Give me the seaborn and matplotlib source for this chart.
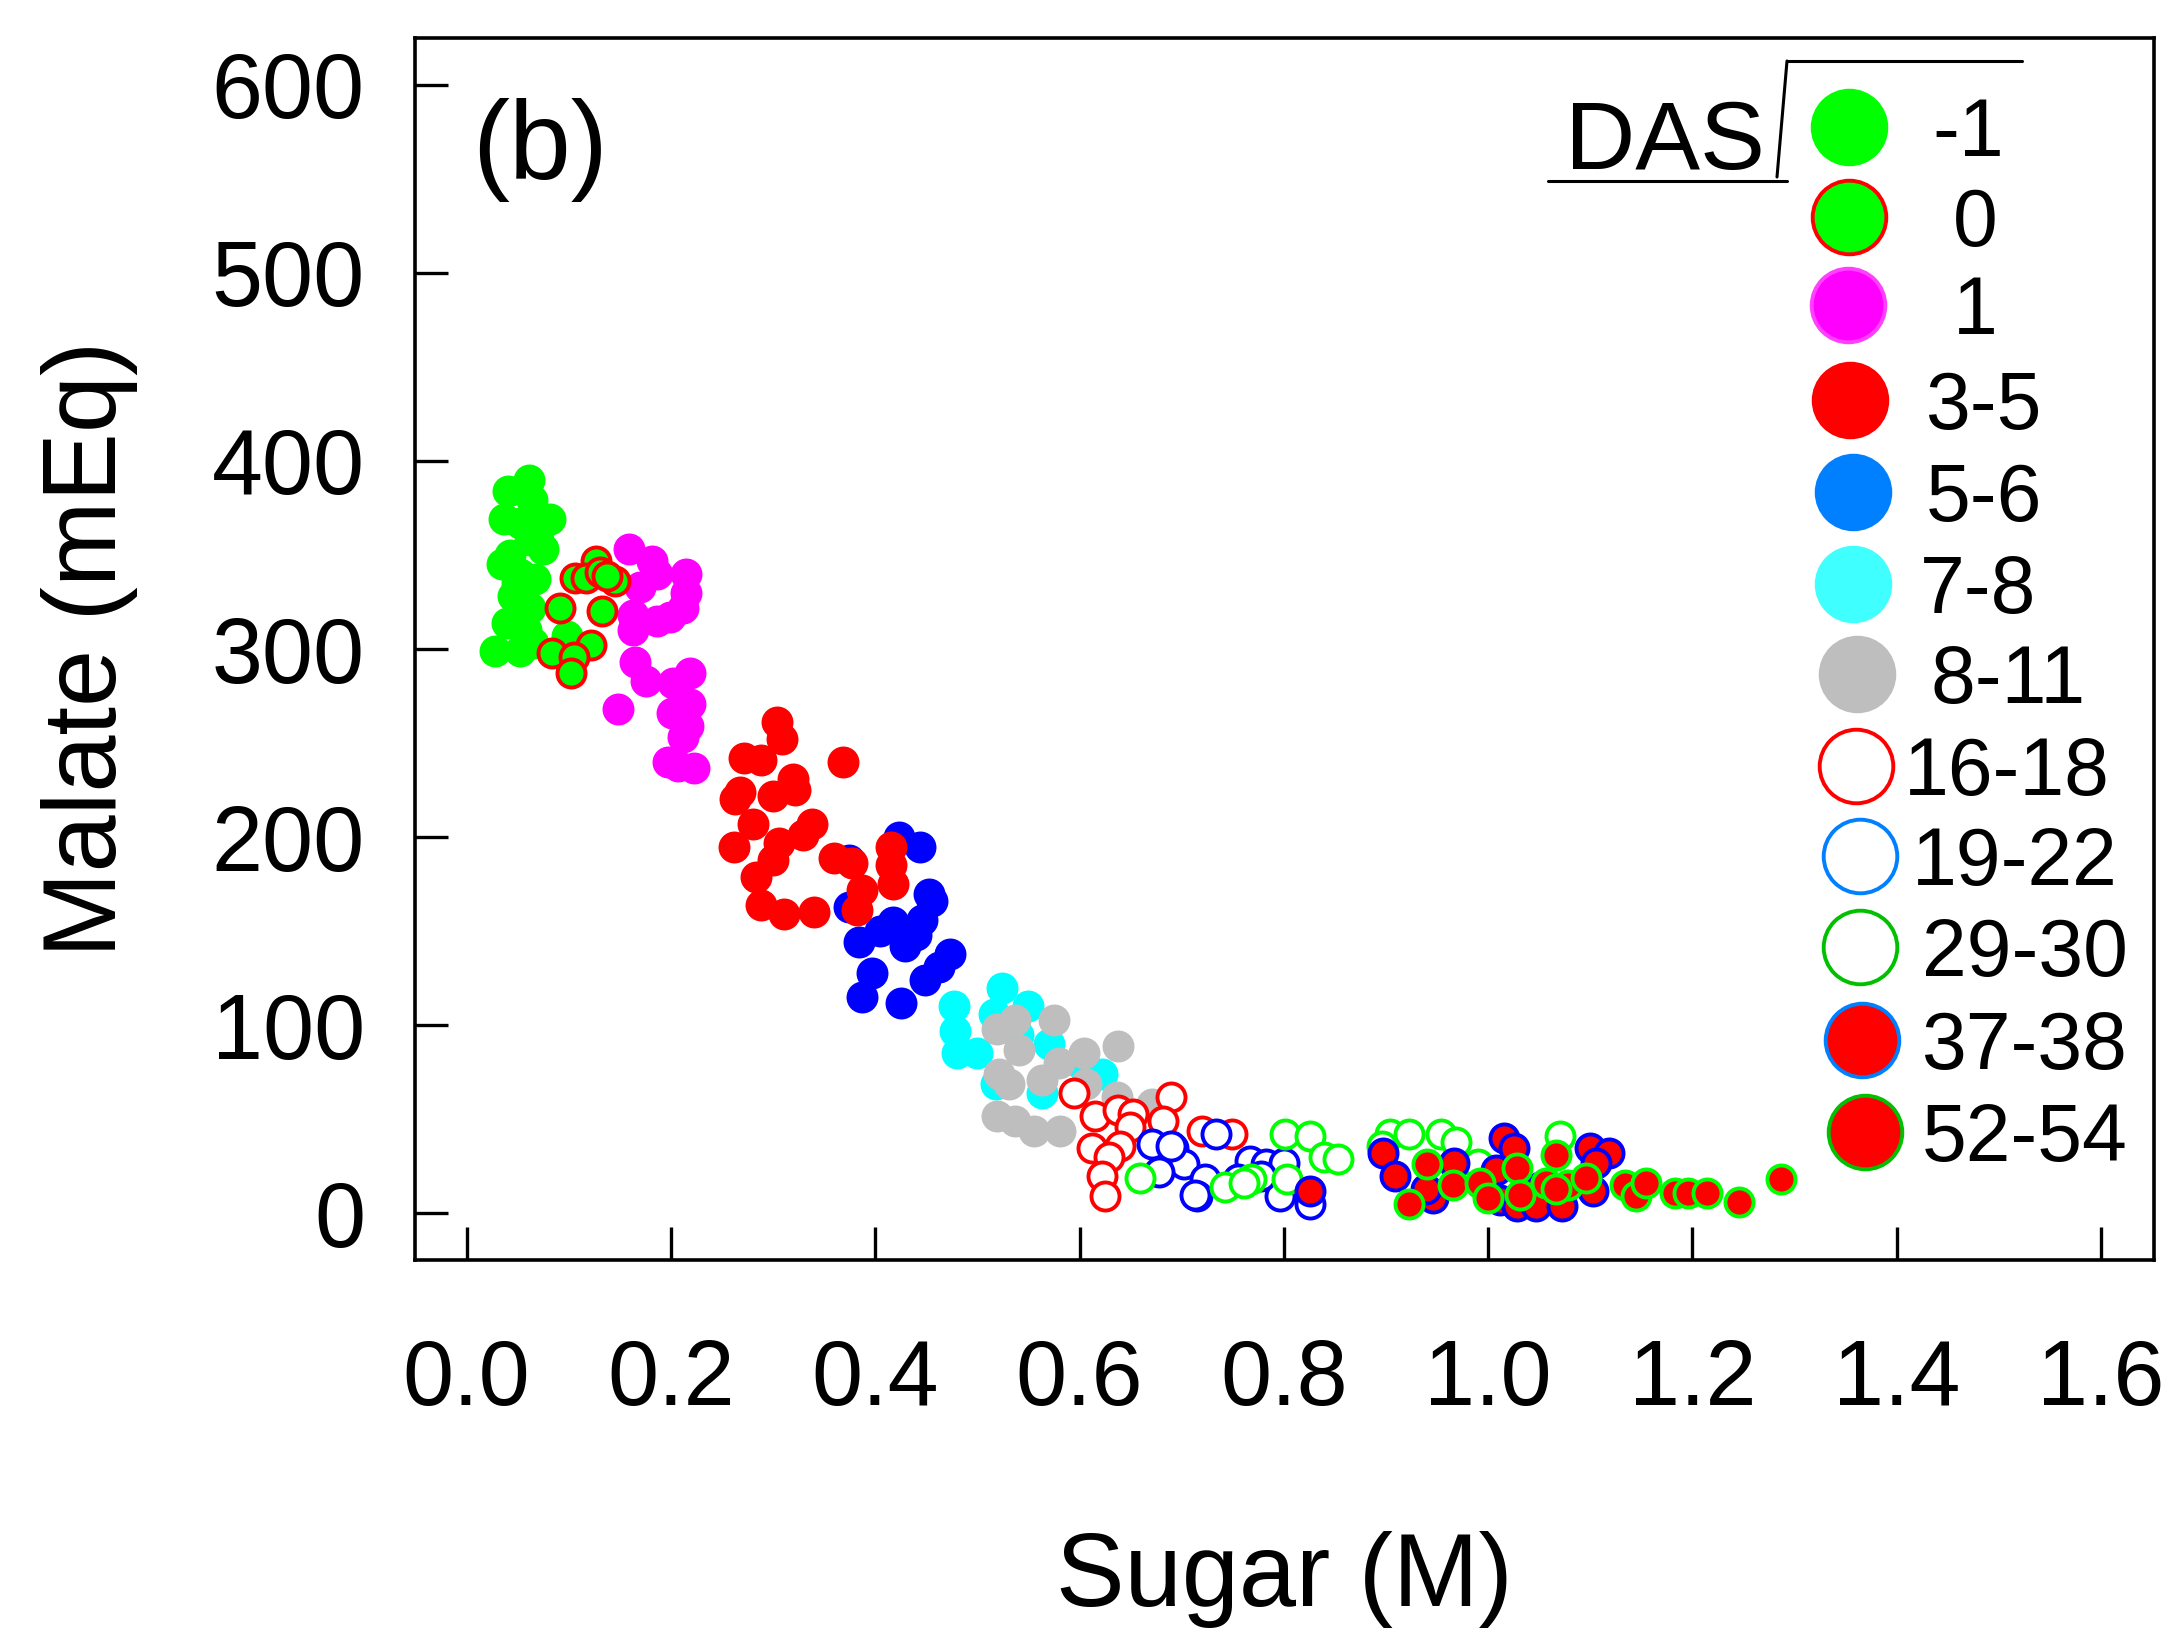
import matplotlib
matplotlib.use("Agg")
import matplotlib.pyplot as plt
import seaborn as sns
from matplotlib import font_manager as fm
from matplotlib.lines import Line2D

# ---------------- data ----------------
x_m1 = [0.061, 0.040, 0.064, 0.037, 0.082, 0.052, 0.042, 0.075, 0.062, 0.052, 0.049, 0.067,
        0.045, 0.062, 0.039, 0.052, 0.028, 0.052, 0.065, 0.098, 0.035, 0.070, 0.058]
y_m1 = [390, 384, 379, 369, 369, 367, 350, 353, 358, 340, 335, 337,
        328, 322, 314, 316, 299, 299, 303, 307, 345, 362, 310]

x_0 = [0.127, 0.106, 0.117, 0.131, 0.145, 0.137, 0.091, 0.132, 0.122, 0.084, 0.105, 0.102]
y_0 = [347, 338, 338, 341, 336, 339, 322, 320, 302, 298, 296, 287]

x_1 = [0.159, 0.181, 0.186, 0.215, 0.215, 0.212, 0.170, 0.163, 0.186, 0.199, 0.163, 0.165,
       0.176, 0.219, 0.202, 0.219, 0.201, 0.217, 0.148, 0.212, 0.197, 0.223, 0.207]
y_1 = [353, 347, 340, 340, 330, 322, 333, 318, 315, 317, 310, 293,
       283, 287, 282, 271, 266, 259, 268, 253, 240, 237, 238]

x_3_5 = [0.304, 0.309, 0.272, 0.288, 0.368, 0.319, 0.321, 0.300, 0.263, 0.268, 0.338, 0.329,
         0.280, 0.262, 0.300, 0.306, 0.360, 0.377, 0.283, 0.415, 0.415, 0.417, 0.387, 0.382,
         0.288, 0.311, 0.340]
y_3_5 = [261, 252, 242, 241, 240, 231, 225, 222, 220, 224, 207, 201,
         207, 195, 188, 197, 189, 186, 179, 195, 185, 175, 172, 161,
         164, 159, 160]

x_5_6 = [0.423, 0.444, 0.374, 0.453, 0.456, 0.417, 0.446, 0.384, 0.429, 0.473, 0.397, 0.449,
         0.387, 0.425, 0.462, 0.374, 0.440, 0.405]
y_5_6 = [200, 195, 188, 170, 166, 155, 156, 144, 142, 138, 128, 124,
         115, 112, 131, 163, 148, 150]

x_7_8 = [0.524, 0.477, 0.550, 0.478, 0.516, 0.480, 0.570, 0.622, 0.518, 0.563, 0.500, 0.540, 0.600]
y_7_8 = [120, 110, 110, 97, 106, 85, 90, 74, 69, 64, 85, 95, 80]

x_8_11 = [0.575, 0.537, 0.519, 0.638, 0.604, 0.580, 0.541, 0.521, 0.531, 0.563, 0.606, 0.637,
          0.671, 0.519, 0.537, 0.555, 0.581]
y_8_11 = [103, 103, 98, 89, 85, 80, 87, 74, 69, 71, 69, 62, 58, 52, 49, 44, 44]

x_16_18 = [0.595, 0.690, 0.615, 0.638, 0.652, 0.682, 0.649, 0.720, 0.612, 0.640, 0.629, 0.622,
           0.625, 0.749]
y_16_18 = [64, 62, 52, 55, 53, 49, 46, 44, 35, 36, 30, 20, 9, 42]

x_19_22 = [0.734, 0.671, 0.692, 0.702, 0.723, 0.715, 0.767, 0.783, 0.800, 0.796, 0.826, 0.678,
           0.755, 0.713, 0.690, 0.778]
y_19_22 = [42, 37, 35, 26, 18, 9, 28, 26, 27, 9, 5, 22, 18, 10, 36, 20]

x_29_30 = [0.659, 0.742, 0.768, 0.801, 0.826, 0.839, 0.853, 0.803, 0.761, 0.904, 0.896, 0.923,
           0.954, 0.969, 1.070, 0.990]
y_29_30 = [19, 14, 18, 42, 41, 30, 29, 18, 16, 42, 36, 42, 42, 38, 41, 26]

x_37_38 = [0.826, 0.897, 0.909, 0.967, 1.016, 1.025, 1.008, 1.051, 1.100, 1.118, 1.106, 0.946,
           1.012, 1.028, 1.047, 1.072, 1.103, 0.939]
y_37_38 = [12, 32, 20, 27, 40, 35, 23, 14, 35, 32, 27, 8, 7, 4, 4, 4, 12, 13]

x_52_54 = [0.923, 0.940, 0.966, 0.992, 1.028, 1.031, 1.067, 1.057, 1.078, 1.096, 1.134, 1.145,
           1.155, 1.183, 1.196, 1.214, 1.246, 1.287, 1.067, 1.000]
y_52_54 = [5, 26, 15, 16, 24, 10, 31, 16, 15, 19, 15, 9, 16, 11, 11, 11, 6, 18, 13, 8]

legend_labels = ["-1", "0", "1", "3-5", "5-6", "7-8", "8-11", "16-18", "19-22", "29-30", "37-38", "52-54"]
x_ticks = [0.0, 0.2, 0.4, 0.6, 0.8, 1.0, 1.2, 1.4, 1.6]
y_ticks = [0, 100, 200, 300, 400, 500, 600]

# ---------------- style ----------------
def pick(names):
    for n in names:
        try:
            fm.findfont(fm.FontProperties(family=n), fallback_to_default=False)
            return n
        except Exception:
            pass
    return "DejaVu Sans"

sns.set_theme(style="white")
FONT = pick(["Liberation Sans Narrow", "Liberation Sans", "DejaVu Sans"])
plt.rcParams["font.family"] = [FONT, "DejaVu Sans"]
for k in ["text.color", "axes.labelcolor", "xtick.color", "ytick.color", "axes.edgecolor"]:
    plt.rcParams[k] = "black"

W, H, DPI = 2172, 1636, 200
fig = plt.figure(figsize=(W / DPI, H / DPI), dpi=DPI)
fig.patch.set_facecolor("white")
ax_l, ax_r, ax_t, ax_b = 415, 2154, 38, 1260
ax = fig.add_axes([ax_l / W, 1 - ax_b / H, (ax_r - ax_l) / W, (ax_b - ax_t) / H])
ax.set_facecolor("white")

# group: (x, y, face, edge, zorder)
groups = [
    (x_m1, y_m1, "#00FF00", "#00FF00", 2),
    (x_1, y_1, "#FF00FF", "#FF00FF", 3),
    (x_0, y_0, "#00FF00", "#FF0000", 4),
    (x_5_6, y_5_6, "#0000FF", "#0000FF", 5),
    (x_3_5, y_3_5, "#FF0000", "#FF0000", 6),
    (x_7_8, y_7_8, "#00FFFF", "#00FFFF", 7),
    (x_8_11, y_8_11, "#BEBEBE", "#BEBEBE", 8),
    (x_16_18, y_16_18, "white", "#FF0000", 9),
    (x_19_22, y_19_22, "white", "#0000FF", 10),
    (x_29_30, y_29_30, "white", "#00FF00", 11),
    (x_37_38, y_37_38, "#FF0000", "#0000FF", 12),
    (x_52_54, y_52_54, "#FF0000", "#00FF00", 13),
]
for gx, gy, fc, ec, z in groups:
    sns.scatterplot(x=gx, y=gy, ax=ax, s=102, color=fc, edgecolor=ec,
                    linewidth=1.4, zorder=z, legend=False)

ax.set_xlim(-0.0506, 1.652)
ax.set_ylim(-24.8, 624.8)
ax.set_xticks(x_ticks)
ax.set_xticklabels([f"{v:.1f}" for v in x_ticks])
ax.set_yticks(y_ticks)
ax.set_yticklabels([str(v) for v in y_ticks])
ax.tick_params(axis="both", direction="in", length=11.9, width=1.2, colors="black",
               labelsize=33, bottom=True, left=True)
ax.tick_params(axis="x", pad=28)
ax.tick_params(axis="y", pad=18)
for sp in ax.spines.values():
    sp.set_visible(True)
    sp.set_color("black")
    sp.set_linewidth(1.3)

ax.set_xlabel("Sugar (M)", fontsize=37, va="center")
ax.xaxis.set_label_coords(0.5, (ax_b - 1579) / (ax_b - ax_t))
ax.set_ylabel("Malate (mEq)", fontsize=37, va="center")
ax.yaxis.set_label_coords((90 - ax_l) / (ax_r - ax_l), 0.5)

ax.text((540 - ax_l) / (ax_r - ax_l), (ax_b - 150) / (ax_b - ax_t), "(b)",
        transform=ax.transAxes, fontsize=40, ha="center", va="center")

# ---------------- legend (figure pixel layout) ----------------
def fx(px):
    return px / W

def fy(py):
    return 1 - py / H

row_y = [127, 217, 305, 400, 492, 584, 674, 766, 856, 947, 1040, 1132]
mark_x = [1849, 1849, 1848, 1850, 1853, 1853, 1857, 1856, 1860, 1860, 1862, 1865]
lab_x = [1932, 1953, 1953, 1926, 1926, 1920, 1930, 1904, 1912, 1922, 1922, 1922]
leg_face = ["#00FF00", "#00FF00", "#FF00FF", "#FF0000", "#0080FF", "#40FFFF", "#BEBEBE",
            "white", "white", "white", "#FF0000", "#FF0000"]
leg_edge = ["#00FF00", "#FF0000", "#FF40FF", "#FF0000", "#0080FF", "#40FFFF", "#BEBEBE",
            "#FF0000", "#0080FF", "#00C000", "#0080FF", "#00C000"]
for lab, ry, mx, lx, fc, ec in zip(legend_labels, row_y, mark_x, lab_x, leg_face, leg_edge):
    fig.add_artist(Line2D([fx(mx)], [fy(ry)], transform=fig.transFigure, marker="o",
                          markersize=26.5, markerfacecolor=fc, markeredgecolor=ec,
                          markeredgewidth=1.4, linestyle="none"))
    fig.text(fx(lx), fy(ry + 29), lab, fontsize=29, ha="left", va="baseline")

fig.text(fx(1565), fy(169), "DAS", fontsize=35, ha="left", va="baseline")
for (x0, y0), (x1, y1) in [((1548, 181), (1787, 181)), ((1777, 177), (1787, 61)),
                           ((1787, 61), (2022, 61))]:
    fig.add_artist(Line2D([fx(x0), fx(x1)], [fy(y0), fy(y1)], transform=fig.transFigure,
                          color="black", linewidth=1.1))

fig.savefig("out.png", dpi=DPI, facecolor="white")
